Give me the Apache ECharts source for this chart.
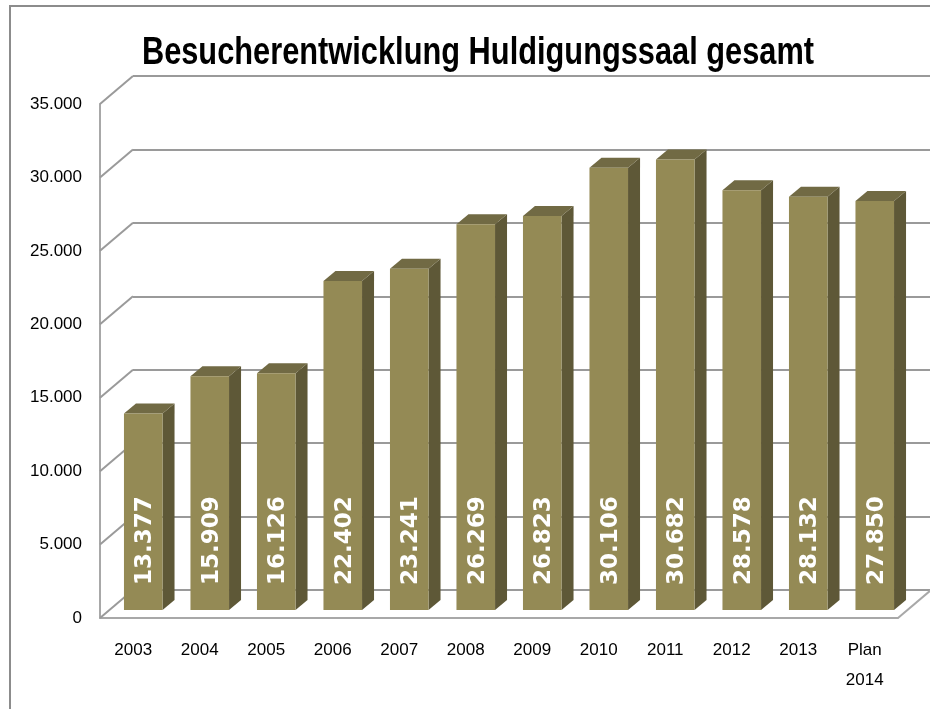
<!DOCTYPE html>
<html>
<head>
<meta charset="utf-8">
<script src="https://cdn.jsdelivr.net/npm/echarts@6/dist/echarts.min.js"></script>
<style>
    html, body { margin: 0; padding: 0; background: #fff; }
    #chart { width: 930px; height: 709px; }
</style>
</head>
<body>
<div id="chart"></div>
<script>
// data
const years = ['2003', '2004', '2005', '2006', '2007', '2008', '2009', '2010', '2011', '2012', '2013', 'Plan\n2014'];
const visitors = [13377, 15909, 16126, 22402, 23241, 26269, 26823, 30106, 30682, 28578, 28132, 27850];
const yTicks = [0, 5000, 10000, 15000, 20000, 25000, 30000, 35000];

// 3d look
const WALL_DX = 33, WALL_DY = -28;   // front plane -> back wall
const BAR_DX = 10, BAR_DY = -8;      // front plane -> bar front face
const BAR_DEPTH_X = 12, BAR_DEPTH_Y = -10;
const FONT = '"Liberation Sans", Arial, sans-serif';

// 13377 -> 13.377
const fmt = v => String(v).replace(/\B(?=(\d{3})+(?!\d))/g, '.');

const chart = echarts.init(document.getElementById('chart'));

chart.setOption({
    animation: false,
    graphic: [
        {
            type: 'polyline',
            shape: { points: [[10, 709], [10, 6], [930, 6]] },
            style: { stroke: '#8c8c8c', lineWidth: 2, fill: null },
            silent: true
        },
        // title, squeezed a little to get the narrow look of the original
        {
            type: 'text',
            x: 478,
            y: 54,
            scaleX: 0.81,
            silent: true,
            style: {
                text: 'Besucherentwicklung Huldigungssaal gesamt',
                font: 'bold 38px "Liberation Sans", Arial, sans-serif',
                fill: '#000',
                align: 'center',
                verticalAlign: 'middle'
            }
        }
    ],
    grid: [
        // front plane
        { left: 100, right: 32, top: 104, bottom: 91 },
        // back wall
        { left: 100 + WALL_DX, right: 32 - WALL_DX, top: 104 + WALL_DY, bottom: 91 - WALL_DY }
    ],
    xAxis: [
        {
            type: 'category',
            gridIndex: 0,
            data: years,
            axisLine: { show: true, lineStyle: { color: '#a8a8a8', width: 2 } },
            axisTick: { show: false },
            axisLabel: {
                margin: 17,
                fontFamily: FONT,
                fontSize: 17,
                color: '#000',
                lineHeight: 30,
                interval: 0,
                verticalAlign: 'top'
            }
        },
        {
            type: 'category',
            gridIndex: 1,
            data: years,
            show: false
        }
    ],
    yAxis: [
        {
            type: 'value',
            gridIndex: 0,
            min: 0,
            max: 35000,
            interval: 5000,
            axisLine: { show: true, lineStyle: { color: '#a8a8a8', width: 2 } },
            axisTick: { show: false },
            splitLine: { show: false },
            axisLabel: {
                margin: 18,
                fontFamily: FONT,
                fontSize: 17,
                color: '#000',
                padding: [4, 0, 0, 0],
                formatter: v => fmt(v)
            }
        },
        {
            type: 'value',
            gridIndex: 1,
            min: 0,
            max: 35000,
            interval: 5000,
            axisLine: { show: false },
            axisTick: { show: false },
            axisLabel: { show: false },
            splitLine: { show: true, lineStyle: { color: '#9a9a9a', width: 2 } }
        }
    ],
    series: [
        // side wall diagonals + right floor edge
        {
            type: 'custom',
            xAxisIndex: 0,
            yAxisIndex: 0,
            silent: true,
            clip: false,
            z: 1,
            data: yTicks.map(v => [0, v]),
            renderItem: (params, api) => {
                const v = api.value(1);
                const cs = params.coordSys;
                const y = api.coord([0, v])[1];
                const children = [{
                    type: 'line',
                    shape: { x1: cs.x, y1: y, x2: cs.x + WALL_DX, y2: y + WALL_DY },
                    style: { stroke: '#9a9a9a', lineWidth: 2 }
                }];
                if (v === 0) {
                    const xr = cs.x + cs.width;
                    children.push({
                        type: 'line',
                        shape: { x1: xr, y1: y, x2: xr + WALL_DX, y2: y + WALL_DY },
                        style: { stroke: '#a8a8a8', lineWidth: 2 }
                    });
                }
                return { type: 'group', children };
            }
        },
        // 3d bars
        {
            type: 'custom',
            xAxisIndex: 0,
            yAxisIndex: 0,
            z: 5,
            data: visitors.map((v, i) => [i, v]),
            renderItem: (params, api) => {
                const i = api.value(0);
                const v = api.value(1);
                const base = api.coord([i, 0]);
                const top = api.coord([i, v]);
                const band = api.size([1, 0])[0];
                const w = band * 0.58;
                const x0 = base[0] + BAR_DX - w / 2;
                const x1 = x0 + w;
                const yb = base[1] + BAR_DY;
                const yt = top[1] + BAR_DY;
                const dx = BAR_DEPTH_X, dy = BAR_DEPTH_Y;
                return {
                    type: 'group',
                    children: [
                        {
                            type: 'polygon',
                            shape: { points: [[x1, yt], [x1 + dx, yt + dy], [x1 + dx, yb + dy], [x1, yb]] },
                            style: { fill: '#5e5837' }
                        },
                        {
                            type: 'polygon',
                            shape: { points: [[x0, yt], [x0 + dx, yt + dy], [x1 + dx, yt + dy], [x1, yt]] },
                            style: { fill: '#716a44' }
                        },
                        {
                            type: 'rect',
                            shape: { x: x0, y: yt, width: w, height: yb - yt },
                            style: { fill: '#948a55' }
                        },
                        {
                            type: 'text',
                            x: x0 + w / 2 + 2,
                            y: yb - 25,
                            rotation: Math.PI / 2,
                            style: {
                                text: fmt(v),
                                fill: '#fff',
                                font: 'bold 23px "DejaVu Sans", Verdana, sans-serif',
                                align: 'left',
                                verticalAlign: 'middle'
                            }
                        }
                    ]
                };
            }
        }
    ]
});
</script>
</body>
</html>
